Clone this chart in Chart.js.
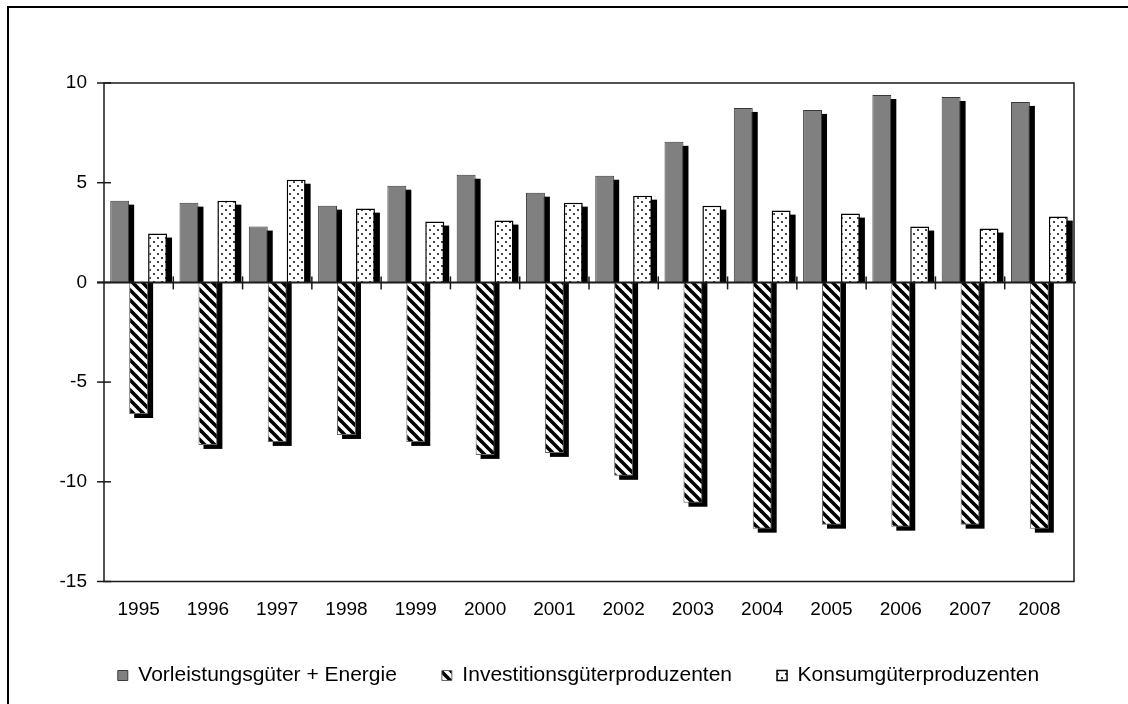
<!DOCTYPE html>
<html>
<head>
<meta charset="utf-8">
<script src="https://cdn.jsdelivr.net/npm/chart.js@4/dist/chart.umd.min.js"></script>
<style>
  body { margin: 0; background: #fff; }
  #frame { position: absolute; left: 7px; top: 6px; width: 1200px; height: 800px;
           border-top: 2px solid #000; border-left: 2px solid #000; }
  #wrap { position: absolute; left: 0; top: 0; width: 1128px; height: 704px; }
</style>
</head>
<body>
<div id="frame"></div>
<div id="wrap"><canvas id="chart"></canvas></div>
<script>
var years = ["1995","1996","1997","1998","1999","2000","2001","2002","2003","2004","2005","2006","2007","2008"];
var vorleistung = [4.1, 4.0, 2.8, 3.85, 4.85, 5.4, 4.5, 5.35, 7.05, 8.75, 8.65, 9.4, 9.3, 9.05];
var investition = [-6.6, -8.15, -8.0, -7.65, -8.0, -8.65, -8.55, -9.7, -11.05, -12.35, -12.15, -12.25, -12.15, -12.35];
var konsum = [2.45, 4.1, 5.15, 3.7, 3.05, 3.1, 4.0, 4.35, 3.85, 3.6, 3.45, 2.8, 2.7, 3.3];
var yTicks = [10, 5, 0, -5, -10, -15];

var fontFam = "'Liberation Sans', Arial, sans-serif";

// fill patterns
function stripePattern(){
  var c = document.createElement("canvas");
  var s = 10;
  c.width = s; c.height = s;
  var g = c.getContext("2d");
  g.fillStyle = "#fff";
  g.fillRect(0, 0, s, s);
  g.strokeStyle = "#000";
  g.lineWidth = 3.6;
  [-s, 0, s].forEach(function(k){
    g.beginPath();
    g.moveTo(-2, -2 + k);
    g.lineTo(s + 2, s + 2 + k);
    g.stroke();
  });
  return g.createPattern(c, "repeat");
}
function dotPattern(){
  var c = document.createElement("canvas");
  c.width = 8; c.height = 8;
  var g = c.getContext("2d");
  g.fillStyle = "#fff";
  g.fillRect(0, 0, 8, 8);
  g.fillStyle = "#444";
  g.fillRect(1, 1, 2, 2);
  g.fillRect(5, 5, 2, 2);
  return g.createPattern(c, "repeat");
}

var shadows = {
  id: "shadows",
  beforeDatasetsDraw: function(chart){
    var ctx = chart.ctx;
    ctx.save();
    ctx.fillStyle = "#000";
    chart.data.datasets.forEach(function(ds, i){
      chart.getDatasetMeta(i).data.forEach(function(bar){
        var p = bar.getProps(["x", "y", "base", "width"], true);
        var left = p.x - p.width / 2 + 5;
        if (p.y < p.base) {
          ctx.fillRect(left, p.y + 4, p.width, p.base - p.y - 4);
        } else {
          ctx.fillRect(left, p.base, p.width, p.y - p.base + 4);
        }
      });
    });
    ctx.restore();
  }
};

var axes = {
  id: "axes",
  afterDatasetsDraw: function(chart){
    var ctx = chart.ctx, a = chart.chartArea;
    var xs = chart.scales.x, ys = chart.scales.y;
    ctx.save();
    ctx.strokeStyle = "#1a1a1a";
    ctx.lineWidth = 1.5;
    ctx.strokeRect(a.left, a.top, a.right - a.left, a.bottom - a.top);
    ctx.lineWidth = 2;
    var y0 = ys.getPixelForValue(0);
    ctx.beginPath();
    ctx.moveTo(a.left - 7, y0);
    ctx.lineTo(a.right + 2, y0);
    ctx.stroke();
    ctx.lineWidth = 1.5;
    yTicks.forEach(function(v){
      var y = ys.getPixelForValue(v);
      ctx.beginPath();
      ctx.moveTo(a.left - 7, y);
      ctx.lineTo(a.left + 7, y);
      ctx.stroke();
    });
    var cw = (xs.right - xs.left) / years.length;
    for (var i = 1; i < years.length; i++) {
      var x = xs.left + i * cw;
      ctx.beginPath();
      ctx.moveTo(x, y0 - 6);
      ctx.lineTo(x, y0 + 7);
      ctx.stroke();
    }
    ctx.restore();
  }
};

new Chart(document.getElementById("chart"), {
  type: "bar",
  data: {
    labels: years,
    datasets: [
      { label: "Vorleistungsgüter + Energie", data: vorleistung,
        backgroundColor: "#808080", borderColor: "#3a3a3a", borderWidth: 1 },
      { label: "Investitionsgüterproduzenten", data: investition,
        backgroundColor: stripePattern(), borderColor: "#666", borderWidth: 1 },
      { label: "Konsumgüterproduzenten", data: konsum,
        backgroundColor: dotPattern(), borderColor: "#000", borderWidth: 1.5 }
    ]
  },
  options: {
    responsive: true,
    maintainAspectRatio: false,
    animation: false,
    categoryPercentage: 0.82,
    barPercentage: 1,
    layout: { padding: { left: 29, right: 0, top: 83, bottom: 8 } },
    scales: {
      x: {
        grid: { display: false, drawTicks: false },
        border: { display: false },
        ticks: { color: "#000", font: { family: fontFam, size: 19 }, padding: 17, maxRotation: 0 },
        afterFit: function(s){ s.height = 38.5; }
      },
      y: {
        min: -15, max: 10,
        grid: { display: false, drawTicks: false },
        border: { display: false },
        ticks: { stepSize: 5, color: "#000", font: { family: fontFam, size: 19 }, padding: 17 },
        afterFit: function(s){ s.width = 75; }
      },
      y2: {
        position: "right",
        min: -15, max: 10,
        grid: { display: false, drawTicks: false },
        border: { display: false },
        ticks: { display: false },
        afterFit: function(s){ s.width = 54; }
      }
    },
    plugins: {
      legend: {
        position: "bottom",
        labels: { color: "#000", font: { family: fontFam, size: 21 }, boxWidth: 10, boxHeight: 10, padding: 45 }
      },
      tooltip: { enabled: false }
    }
  },
  plugins: [shadows, axes]
});
</script>
</body>
</html>
